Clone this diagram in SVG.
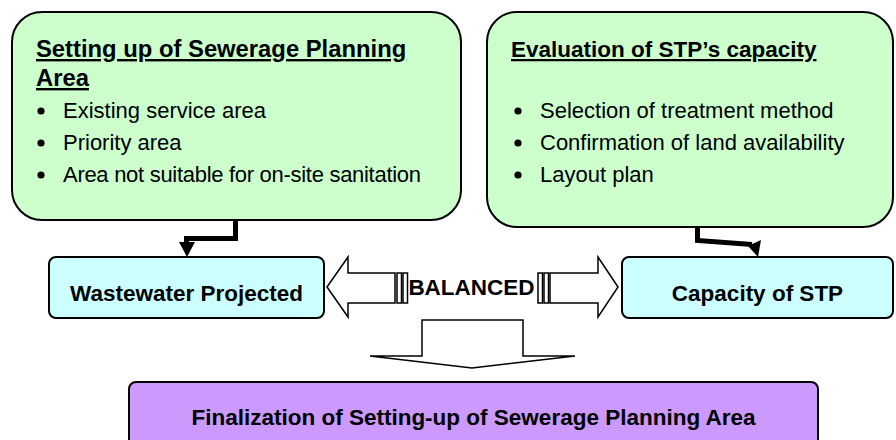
<svg xmlns="http://www.w3.org/2000/svg" width="896" height="440" viewBox="0 0 896 440">
<style>
  text { font-family: "Liberation Sans", Arial, Helvetica, sans-serif; fill: #000; }
  .title { font-size: 22.5px; font-weight: bold; text-decoration: underline; }
  .title-lg { font-size: 23.8px; }
  .item { font-size: 22px; }
  .label { font-size: 22.5px; font-weight: bold; text-anchor: middle; }
  .green { fill: #ccffcc; stroke: #000; stroke-width: 2; }
  .cyan { fill: #ccffff; stroke: #000; stroke-width: 2; }
  .purple { fill: #cc99ff; stroke: #000; stroke-width: 2; }
  .block { fill: #fff; stroke: #000; stroke-width: 1.5; stroke-linejoin: miter; }
  .conn { fill: none; stroke: #000; stroke-width: 5; }
</style>
<rect width="896" height="440" fill="#fff"/>

<g id="setting-up-box">
  <rect class="green" x="12" y="12" width="449" height="208" rx="30" ry="30"/>
  <text class="title title-lg" x="36" y="57">Setting up of Sewerage Planning</text>
  <text class="title title-lg" x="36" y="86">Area</text>
  <circle cx="41" cy="111" r="3.6"/>
  <text class="item" x="63" y="118">Existing service area</text>
  <circle cx="41" cy="143" r="3.6"/>
  <text class="item" x="63" y="150">Priority area</text>
  <circle cx="41" cy="175" r="3.6"/>
  <text class="item" x="63" y="182" textLength="358" lengthAdjust="spacing">Area not suitable for on-site sanitation</text>
</g>

<g id="evaluation-box">
  <rect class="green" x="487" y="12" width="406" height="215" rx="30" ry="30"/>
  <text class="title" x="511" y="57">Evaluation of STP’s capacity</text>
  <circle cx="518" cy="111" r="3.6"/>
  <text class="item" x="540" y="118">Selection of treatment method</text>
  <circle cx="518" cy="143" r="3.6"/>
  <text class="item" x="540" y="150">Confirmation of land availability</text>
  <circle cx="518" cy="175" r="3.6"/>
  <text class="item" x="540" y="182">Layout plan</text>
</g>

<g id="wastewater-projected">
  <rect class="cyan" x="49" y="257" width="275" height="61" rx="7" ry="7"/>
  <text class="label" x="186.5" y="301">Wastewater Projected</text>
</g>

<g id="capacity-of-stp">
  <rect class="cyan" x="622" y="257" width="271" height="61" rx="7" ry="7"/>
  <text class="label" x="757.5" y="301">Capacity of STP</text>
</g>

<g id="finalization">
  <rect class="purple" x="129" y="382" width="689" height="64" rx="7" ry="7"/>
  <text class="label" x="473.5" y="425">Finalization of Setting-up of Sewerage Planning Area</text>
</g>

<g id="balanced">
  <polygon class="block" points="327,287 348,257 348,273 395,273 395,303 348,303 348,317"/>
  <rect class="block" x="397" y="273" width="4.5" height="30"/>
  <rect class="block" x="403" y="273" width="4.5" height="30"/>
  <polygon class="block" points="618,287 598,257 598,273 550,273 550,303 598,303 598,317"/>
  <rect class="block" x="538" y="273" width="4.5" height="30"/>
  <rect class="block" x="544" y="273" width="4.5" height="30"/>
  <text class="label" x="471.5" y="295">BALANCED</text>
</g>

<g id="connectors">
  <path class="conn" d="M235.5 220 V238.5 H186.5 V244"/>
  <polygon points="179,242 195,242 187,257" fill="#000"/>
  <path class="conn" d="M697.5 227 V240.5 L752 244.5"/>
  <polygon points="748,246 761,240 758,257" fill="#000"/>
  <polygon class="block" points="422,320 523,320 523,356 575,356 472,368 370,356 422,356"/>
</g>
</svg>
